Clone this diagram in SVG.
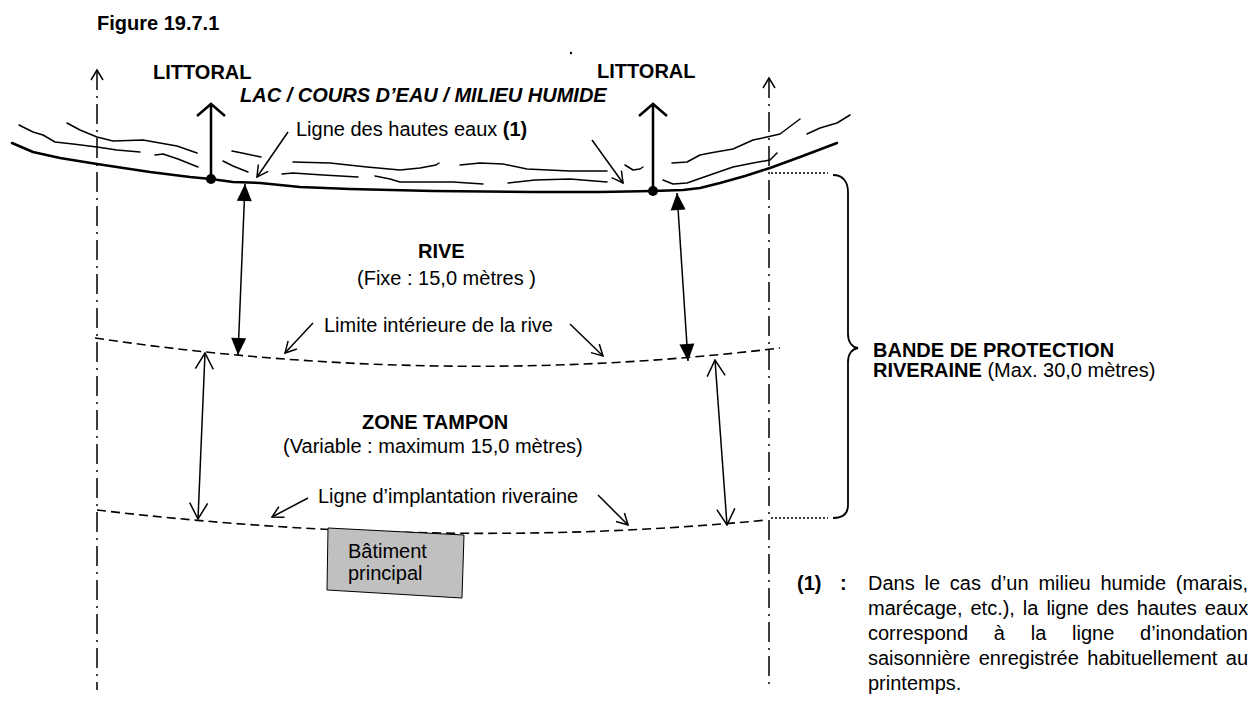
<svg xmlns="http://www.w3.org/2000/svg" width="1260" height="705" viewBox="0 0 1260 705">
<style>
text{font-family:"Liberation Sans",Arial,sans-serif;font-size:20px;fill:#000}
.b{font-weight:bold}
.bi{font-weight:bold;font-style:italic}
.axis{fill:none;stroke:#000;stroke-width:1.5;stroke-dasharray:20 6 2 6}
.shore{fill:none;stroke:#000;stroke-width:2.5;stroke-linejoin:round;stroke-linecap:round}
.wave{fill:none;stroke:#000;stroke-width:1.5;stroke-linejoin:round;stroke-linecap:round}
.dash{fill:none;stroke:#000;stroke-width:1.6;stroke-dasharray:9 5}
.dot{fill:none;stroke:#000;stroke-width:1.5;stroke-dasharray:2 2}
.ln{fill:none;stroke:#000;stroke-width:1.5}
.thick{fill:none;stroke:#000;stroke-width:2.5}
</style>
<defs>
<marker id="op" markerUnits="userSpaceOnUse" orient="auto" overflow="visible" markerWidth="1" markerHeight="1"><path d="M-11,-6 L0,0 L-11,6" fill="none" stroke="#000" stroke-width="1.5"/></marker>
<marker id="opm" markerUnits="userSpaceOnUse" orient="auto-start-reverse" overflow="visible" markerWidth="1" markerHeight="1"><path d="M-16,-9 L0,0 L-16,9" fill="none" stroke="#000" stroke-width="1.5"/></marker>
<marker id="opb" markerUnits="userSpaceOnUse" orient="auto" overflow="visible" markerWidth="1" markerHeight="1"><path d="M-12,-14 L0,0 L-12,14" fill="none" stroke="#000" stroke-width="2.5"/></marker>
<marker id="fil" markerUnits="userSpaceOnUse" orient="auto-start-reverse" overflow="visible" markerWidth="1" markerHeight="1"><path d="M-17,-7.5 L0,0 L-17,7.5 Z" fill="#000"/></marker>
</defs>

<g id="title"><text class="b" x="97" y="30">Figure 19.7.1</text></g>
<circle cx="571" cy="53" r="1.2" fill="#000"/>

<g id="axes">
<line class="axis" x1="97" y1="70" x2="97" y2="690"/>
<path d="M91,80 L97,70 L103,80" class="ln"/>
<line class="axis" x1="769" y1="78" x2="769" y2="690"/>
<path d="M763,88 L769,78 L775,88" class="ln"/>
</g>

<g id="water">
<polyline class="shore" points="12,143 33,152 60,158 97,164 150,172 190,177 211,179 233,182 260,183 300,187 350,189 433,191 533,192 600,192 653,191 683,190 700,188 720,183 745,176 770,168 800,157 837,143"/>
<polyline class="wave" points="19,125 33,132 43,135 55,142 73,144 97,147 117,150 140,152"/>
<polyline class="wave" points="67,123 80,130 97,137 113,141 143,140 160,143 177,146 197,153"/>
<polyline class="wave" points="155,155 163,154 178,159 198,167"/>
<polyline class="wave" points="232,151 242,153 261,157"/>
<polyline class="wave" points="223,161 233,166 248,172"/>
<polyline class="wave" points="293,162 330,163 367,167 400,170 420,168 436,165 439,163"/>
<polyline class="wave" points="282,174 293,173 323,175 358,177"/>
<polyline class="wave" points="375,176 390,179 400,182 427,182 453,182 483,184"/>
<polyline class="wave" points="460,165 480,163 503,164 527,169 570,171 607,171"/>
<polyline class="wave" points="508,183 535,180 570,179 607,182"/>
<polyline class="wave" points="625,165 633,170 640,169 643,167"/>
<polyline class="wave" points="672,163 687,162 700,155 710,153 733,149 753,140 767,137 780,134 800,119"/>
<polyline class="wave" points="807,134 820,128 837,123 850,115"/>
<polyline class="wave" points="663,180 673,184 687,183 707,176 733,167 753,163 770,160 777,153"/>
<circle cx="211" cy="179" r="5" fill="#000"/>
<circle cx="653" cy="191" r="5" fill="#000"/>
</g>

<g id="limits">
<path class="dash" d="M95,338 Q442,389 780,348"/>
<path class="dash" d="M97,510 Q446,551 767,520"/>
<line class="dot" x1="771" y1="173" x2="828" y2="173"/>
<line class="dot" x1="771" y1="518" x2="828" y2="518"/>
<path class="ln" style="stroke-width:1.8" d="M833,175 C843,175 848,182 848,192 L848,334 C848,342 852,347 858,348 C852,349 848,354 848,362 L848,505 C848,513 843,518 833,518"/>
</g>

<g id="connectors">
<line class="thick" x1="211" y1="179" x2="211" y2="104" marker-end="url(#opb)"/>
<line class="thick" x1="653" y1="191" x2="653" y2="104" marker-end="url(#opb)"/>
<line class="ln" x1="245" y1="184" x2="238" y2="355" marker-start="url(#fil)" marker-end="url(#fil)"/>
<line class="ln" x1="677" y1="193" x2="688" y2="361" marker-start="url(#fil)" marker-end="url(#fil)"/>
<line class="ln" x1="205" y1="353" x2="198" y2="519" marker-start="url(#opm)" marker-end="url(#opm)"/>
<line class="ln" x1="715" y1="360" x2="727" y2="525" marker-start="url(#opm)" marker-end="url(#opm)"/>
<line class="ln" x1="288" y1="132" x2="257" y2="177" marker-end="url(#op)"/>
<line class="ln" x1="592" y1="140" x2="623" y2="183" marker-end="url(#op)"/>
<line class="ln" x1="313" y1="323" x2="285" y2="353" marker-end="url(#op)"/>
<line class="ln" x1="570" y1="324" x2="603" y2="356" marker-end="url(#op)"/>
<line class="ln" x1="308" y1="498" x2="272" y2="517" marker-end="url(#op)"/>
<line class="ln" x1="598" y1="495" x2="628" y2="525" marker-end="url(#op)"/>
</g>

<g id="littoral-left"><text class="b" x="153" y="79">LITTORAL</text></g>
<g id="littoral-right"><text class="b" x="597" y="78">LITTORAL</text></g>
<g id="water-label"><text class="bi" x="240" y="102">LAC / COURS D’EAU / MILIEU HUMIDE</text></g>
<g id="high-water"><text x="296" y="136">Ligne des hautes eaux <tspan class="b">(1)</tspan></text></g>
<g id="rive"><text class="b" x="418" y="258">RIVE</text><text x="357" y="285">(Fixe : 15,0 mètres )</text></g>
<g id="limit-label"><text x="324" y="332">Limite intérieure de la rive</text></g>
<g id="zone-tampon"><text class="b" x="362" y="429">ZONE TAMPON</text><text x="283" y="453">(Variable : maximum 15,0 mètres)</text></g>
<g id="implantation-label"><text x="318" y="503">Ligne d’implantation riveraine</text></g>
<g id="batiment">
<polygon points="328,528 464,535 462,598 327,590" fill="#c0c0c0" stroke="#000" stroke-width="1"/>
<text x="348" y="558">Bâtiment</text><text x="348" y="580">principal</text>
</g>
<g id="bande"><text class="b" x="873" y="357">BANDE DE PROTECTION</text><text x="873" y="377"><tspan class="b">RIVERAINE</tspan> (Max. 30,0 mètres)</text></g>
<g id="note">
<text class="b" x="797" y="590">(1)</text><text class="b" x="840" y="590">:</text>
<text x="868" y="590" word-spacing="4.25">Dans le cas d’un milieu humide (marais,</text>
<text x="868" y="615" word-spacing="2.4">marécage, etc.), la ligne des hautes eaux</text>
<text x="868" y="640" word-spacing="20.2">correspond à la ligne d’inondation</text>
<text x="868" y="665" word-spacing="2.9">saisonnière enregistrée habituellement au</text>
<text x="868" y="690">printemps.</text>
</g>
</svg>
